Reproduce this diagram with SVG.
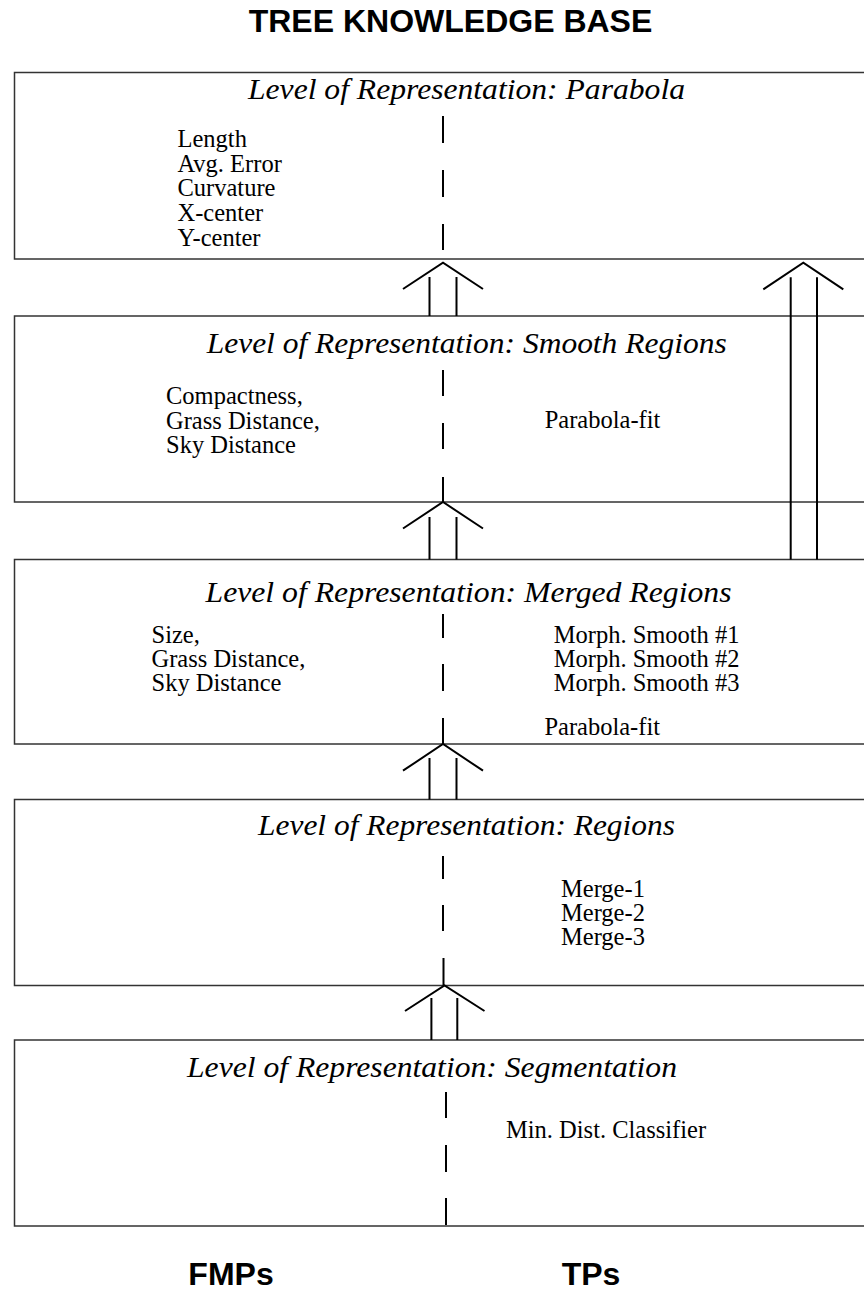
<svg xmlns="http://www.w3.org/2000/svg" width="864" height="1293" viewBox="0 0 864 1293">
  <style>
    .box { fill: #fff; stroke: #333; stroke-width: 1.5; }
    .head { font-family: "Liberation Sans", Arial, sans-serif; font-weight: bold; font-size: 32px; fill: #000; }
    .level { font-family: "Liberation Serif", "Times New Roman", serif; font-style: italic; font-size: 30px; fill: #000; }
    .item { font-family: "Liberation Serif", "Times New Roman", serif; font-size: 24.5px; fill: #000; }
    .dash { stroke: #000; stroke-width: 2; fill: none; }
    .arrow { stroke: #000; stroke-width: 2; fill: none; stroke-linecap: butt; }
  </style>

  <rect width="864" height="1293" fill="#fff"/>

  <text class="head" x="450.5" y="32" text-anchor="middle">TREE KNOWLEDGE BASE</text>

  <!-- Level: Parabola -->
  <g id="level-parabola">
    <rect class="box" x="14.5" y="72.5" width="900" height="186.5"/>
    <text class="level" x="248" y="99" textLength="437" lengthAdjust="spacingAndGlyphs">Level of Representation: Parabola</text>
    <text class="item" x="177.5" y="147">Length</text>
    <text class="item" x="177.5" y="172">Avg. Error</text>
    <text class="item" x="177.5" y="196">Curvature</text>
    <text class="item" x="177.5" y="221">X-center</text>
    <text class="item" x="177.5" y="246">Y-center</text>
    <path class="dash" d="M443 116V143M443 170V197M443 224V250"/>
  </g>

  <!-- Level: Smooth Regions -->
  <g id="level-smooth">
    <rect class="box" x="14.5" y="316" width="900" height="186"/>
    <text class="level" x="206.7" y="353" textLength="520" lengthAdjust="spacingAndGlyphs">Level of Representation: Smooth Regions</text>
    <text class="item" x="166" y="404">Compactness,</text>
    <text class="item" x="166" y="429">Grass Distance,</text>
    <text class="item" x="166" y="453">Sky Distance</text>
    <text class="item" x="544.7" y="428">Parabola-fit</text>
    <path class="dash" d="M443 370V396M443 423V449M443 477V502"/>
  </g>

  <!-- Level: Merged Regions -->
  <g id="level-merged">
    <rect class="box" x="14.5" y="559.5" width="900" height="184.5"/>
    <text class="level" x="205.5" y="602" textLength="526" lengthAdjust="spacingAndGlyphs">Level of Representation: Merged Regions</text>
    <text class="item" x="151.5" y="643">Size,</text>
    <text class="item" x="151.5" y="667">Grass Distance,</text>
    <text class="item" x="151.5" y="691">Sky Distance</text>
    <text class="item" x="553.7" y="643">Morph. Smooth #1</text>
    <text class="item" x="553.7" y="667">Morph. Smooth #2</text>
    <text class="item" x="553.7" y="691">Morph. Smooth #3</text>
    <text class="item" x="544.4" y="735">Parabola-fit</text>
    <path class="dash" d="M443 614V638M443 664V691M443 718V744"/>
  </g>

  <!-- Level: Regions -->
  <g id="level-regions">
    <rect class="box" x="14.5" y="799.5" width="900" height="186"/>
    <text class="level" x="258" y="835" textLength="417" lengthAdjust="spacingAndGlyphs">Level of Representation: Regions</text>
    <text class="item" x="561" y="897">Merge-1</text>
    <text class="item" x="561" y="921">Merge-2</text>
    <text class="item" x="561" y="945">Merge-3</text>
    <path class="dash" d="M443 856V879M443 905V931M443.5 958V985.5"/>
  </g>

  <!-- Level: Segmentation -->
  <g id="level-segmentation">
    <rect class="box" x="14.5" y="1040" width="900" height="186"/>
    <text class="level" x="187" y="1077" textLength="490" lengthAdjust="spacingAndGlyphs">Level of Representation: Segmentation</text>
    <text class="item" x="506" y="1138">Min. Dist. Classifier</text>
    <path class="dash" d="M446 1092V1118M446 1145V1172M446 1198V1225"/>
  </g>

  <!-- Upward double-line arrows between levels -->
  <g id="connectors">
    <path class="arrow" d="M403 289L443 262.7L483 289M429.5 277V316M456.5 277V316"/>
    <path class="arrow" d="M763.3 289.3L803.3 262.7L843.3 289.3M790.7 277.3V559.5M817 277.3V559.5"/>
    <path class="arrow" d="M403 528.5L443 502L483 528.5M429.5 517V559.5M456.5 517V559.5"/>
    <path class="arrow" d="M403 770.7L443 744L483 770.7M429.5 758V799.5M456.5 758V799.5"/>
    <path class="arrow" d="M405 1011L444.5 985.5L484.5 1011M431.4 998V1040M457.3 998V1040"/>
  </g>

  <text class="head" x="231" y="1285" text-anchor="middle">FMPs</text>
  <text class="head" x="591" y="1285" text-anchor="middle">TPs</text>
</svg>
